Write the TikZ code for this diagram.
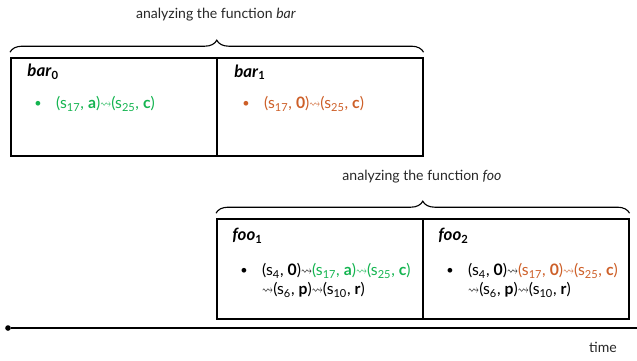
\documentclass[tikz,border=0pt]{standalone}
\usepackage{amsmath}
\usepackage{amssymb}
\usepackage{graphicx}
\usepackage{fontspec}
\setmainfont{Lato}
\usetikzlibrary{positioning, decorations.pathreplacing, calc}
\definecolor{pathgreen}{RGB}{20,180,80}
\definecolor{pathorange}{RGB}{205,95,40}
\definecolor{darkgrey}{RGB}{40,40,40}
\newcommand{\lt}{\scalebox{0.7}[1]{$\leadsto$}}
\newcommand{\st}[1]{s\textsubscript{#1}}
\newcommand{\ttl}[2]{\textit{#1}\textsubscript{\upshape #2}}
\tikzset{
    phasebox/.style={rectangle, draw=black, line width=1.1pt, minimum width=5.15cm, minimum height=2.45cm, anchor=north west, inner sep=0pt},
    phasetitle/.style={font=\large\bfseries, anchor=west, inner sep=0pt},
    bulletdot/.style={font=\small, inner sep=0pt},
    pathtxt/.style={font=\fontsize{11.2}{13.5}\selectfont, anchor=west, align=left, inner sep=0pt},
    fnbrace/.style={decorate, decoration={brace, amplitude=0.3cm}, line width=0.8pt},
    fnlabel/.style={font=\normalsize, text=darkgrey},
    timeline/.style={line width=1pt}
}

\begin{document}
\begin{tikzpicture}
        \useasboundingbox (0,0) rectangle (15.925,-9);
        % === Function bar ===
        \node[phasebox] (bar0) at (0.25,-1.425) {};
        \node[phasebox] (bar1) at (5.4,-1.425) {};
        \node[phasetitle] (bar0t) at (0.68,-1.8) {\ttl{bar}{0}};
        \node[phasetitle] (bar1t) at (5.85,-1.8) {\ttl{bar}{1}};
        \node[bulletdot, text=pathgreen] (bar0b) at (0.95,-2.6) {\textbullet};
        \node[pathtxt, text=pathgreen, right=0.35cm of bar0b] (bar0p) {(\st{17}, \textbf{a})\lt(\st{25}, \textbf{c})};
        \node[bulletdot, text=pathorange] (bar1b) at (6.15,-2.6) {\textbullet};
        \node[pathtxt, text=pathorange, right=0.35cm of bar1b] (bar1p) {(\st{17}, \textbf{0})\lt(\st{25}, \textbf{c})};
        \draw[fnbrace] ($(bar0.north west)+(0,0.12)$) -- ($(bar1.north east)+(0,0.12)$);
        \node[fnlabel] (barLbl) at (5.4,-0.375) {analyzing the function \textit{bar}};

        % === Function foo ===
        \node[phasebox, minimum height=2.5cm] (foo1) at (5.4,-5.45) {};
        \node[phasebox, minimum height=2.5cm] (foo2) at (10.55,-5.45) {};
        \node[phasetitle] (foo1t) at (5.8,-5.9) {\ttl{foo}{1}};
        \node[phasetitle] (foo2t) at (10.95,-5.9) {\ttl{foo}{2}};
        \node[bulletdot] (foo1b) at (6.1,-6.78) {\textbullet};
        \node[pathtxt, right=0.35cm of foo1b, yshift=-0.23cm] (foo1p) {(\st{4}, \textbf{0})\lt\textcolor{pathgreen}{(\st{17}, \textbf{a})\lt(\st{25}, \textbf{c})}\\\lt(\st{6}, \textbf{p})\lt(\st{10}, \textbf{r})};
        \node[bulletdot] (foo2b) at (11.25,-6.78) {\textbullet};
        \node[pathtxt, right=0.35cm of foo2b, yshift=-0.23cm] (foo2p) {(\st{4}, \textbf{0})\lt\textcolor{pathorange}{(\st{17}, \textbf{0})\lt(\st{25}, \textbf{c})}\\\lt(\st{6}, \textbf{p})\lt(\st{10}, \textbf{r})};
        \draw[fnbrace] ($(foo1.north west)+(0,0.12)$) -- ($(foo2.north east)+(0,0.12)$);
        \node[fnlabel] (fooLbl) at (10.55,-4.425) {analyzing the function \textit{foo}};

        % === Time axis ===
        \node[circle, fill=black, inner sep=0pt, minimum size=4pt] (t0) at (0.2,-8.2) {};
        \coordinate (tEnd) at (15.925,-8.2);
        \draw[timeline] (t0) -- (tEnd);
        \node[fnlabel] (tLbl) at (15.075,-8.675) {time};
    \end{tikzpicture}
\end{document}
